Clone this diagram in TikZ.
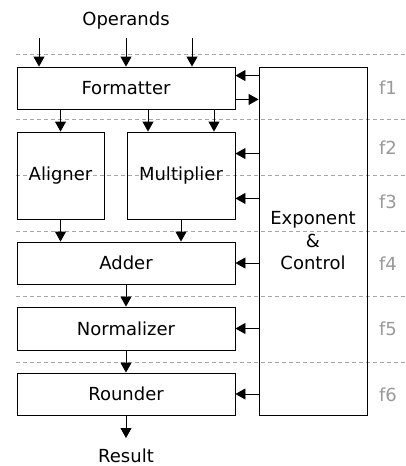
\documentclass[tikz,border=0pt]{standalone}
\usepackage{fontspec}
\setmainfont{DejaVu Sans}
\usetikzlibrary{arrows.meta}
\begin{document}
\begin{tikzpicture}[x=1pt,y=-1pt]
        \tikzstyle{every node}=[font=\fontsize{18}{22.5}\selectfont]
        \tikzstyle{unit}=[draw, line width=0.9pt, minimum height=42pt, inner sep=0pt]
        \tikzstyle{flow}=[-{Triangle[length=10pt,width=11pt]}, line width=0.9pt]
        \tikzstyle{stage}=[black!35, dash pattern=on 4pt off 3pt, line width=0.8pt]
        \tikzstyle{tag}=[text=black!40]
        \useasboundingbox (0,0) rectangle (405,466);

        \foreach \y in {54,119,175,231,296,362}
            \draw[stage] (16,\y) -- (405,\y);

        \node[unit, minimum width=218pt] (fmt) at (126,88) {Formatter};
        \node[unit, minimum width=87pt, minimum height=87pt] (alg) at (60.5,175.5) {Aligner};
        \node[unit, minimum width=108pt, minimum height=87pt] (mul) at (181,175.5) {Multiplier};
        \node[unit, minimum width=218pt] (add) at (126,263) {Adder};
        \node[unit, minimum width=218pt, minimum height=43pt] (nrm) at (126,328.5) {Normalizer};
        \node[unit, minimum width=218pt] (rnd) at (126,394) {Rounder};
        \node[unit, minimum width=108pt, minimum height=348pt, align=center] (ctl) at (313,241) {Exponent\\\&\\Control};

        \node (ops) at (126,21) {Operands};
        \node (res) at (126,456) {Result};

        \foreach \n/\y in {1/88,2/148,3/202,4/264,5/329,6/395}
            \node[tag] (f\n) at (388,\y) {f\n};

        \coordinate (op1) at (39,38);
        \coordinate (op2) at (126,38);
        \coordinate (op3) at (192,38);
        \coordinate (out) at (126,438);
        \coordinate (c1) at ([yshift=-9pt]fmt.north east);
        \coordinate (c2) at ([yshift=10pt]fmt.south east);
        \coordinate (c3) at ([yshift=-22pt]mul.north east);
        \coordinate (c4) at ([yshift=21pt]mul.south east);

        \foreach \c in {op1,op2,op3}
            \draw[flow] (\c) -- (\c |- fmt.north);

        \draw[flow] (c1 -| ctl.west) -- (c1);
        \draw[flow] (c2) -- (c2 -| ctl.west);
        \draw[flow] (c3 -| ctl.west) -- (c3);
        \draw[flow] (c4 -| ctl.west) -- (c4);
        \draw[flow] (ctl.west |- add.east) -- (add.east);
        \draw[flow] (ctl.west |- nrm.east) -- (nrm.east);
        \draw[flow] (ctl.west |- rnd.east) -- (rnd.east);

        \draw[flow] (alg.north |- fmt.south) -- (alg.north);
        \draw[flow] ([xshift=-33pt]mul.north |- fmt.south) -- ([xshift=-33pt]mul.north);
        \draw[flow] ([xshift=33pt]mul.north |- fmt.south) -- ([xshift=33pt]mul.north);
        \draw[flow] (alg.south) -- (alg.south |- add.north);
        \draw[flow] (mul.south) -- (mul.south |- add.north);
        \draw[flow] (add.south) -- (nrm.north);
        \draw[flow] (nrm.south) -- (rnd.north);
        \draw[flow] (rnd.south) -- (out);
        \end{tikzpicture}
\end{document}
